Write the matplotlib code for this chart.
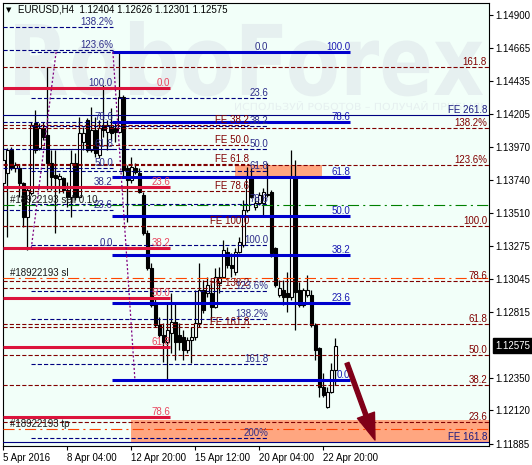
import matplotlib
matplotlib.use('Agg')
import matplotlib.pyplot as plt
from matplotlib.patches import Rectangle, PathPatch
from matplotlib.textpath import TextPath
from matplotlib.font_manager import FontProperties
from matplotlib.transforms import Affine2D
import numpy as np

plt.rcParams['font.family'] = ['Liberation Sans', 'DejaVu Sans']
plt.rcParams['lines.scale_dashes'] = False

# EURUSD H4 bars
opens = [1.13719, 1.13789, 1.13951, 1.13824, 1.13824, 1.13719, 1.13480, 1.13648, 1.14140, 1.13965,
         1.14105, 1.14056, 1.13859, 1.13775, 1.13747, 1.13754, 1.13669, 1.13620, 1.13859, 1.13620,
         1.14007, 1.14161, 1.13951, 1.14091, 1.13915, 1.14126, 1.14077, 1.14112, 1.14105, 1.14077,
         1.14323, 1.13824, 1.13740, 1.13824, 1.13789, 1.13634, 1.13367, 1.13121, 1.12875, 1.12720,
         1.12650, 1.12601, 1.12664, 1.12741, 1.12650, 1.12636, 1.12545, 1.12615, 1.12636, 1.12734,
         1.12966, 1.12945, 1.12945, 1.12847, 1.13016, 1.13058, 1.13233, 1.13142, 1.13093, 1.13233,
         1.13283, 1.13529, 1.13754, 1.13550, 1.13578, 1.13578, 1.13634, 1.13655, 1.13262, 1.12931,
         1.12966, 1.12945, 1.12917, 1.13761, 1.12966, 1.12861, 1.12931, 1.12931, 1.12720, 1.12559,
         1.12284, 1.12144, 1.12249, 1.12404]
highs = [1.13965, 1.13965, 1.13972, 1.13866, 1.13845, 1.13726, 1.13683, 1.14147, 1.14232, 1.14140,
         1.14147, 1.14534, 1.13951, 1.13951, 1.13789, 1.13761, 1.13726, 1.13951, 1.13929, 1.14182,
         1.14112, 1.14175, 1.14253, 1.14182, 1.14161, 1.14407, 1.14161, 1.14246, 1.14147, 1.14639,
         1.14337, 1.13845, 1.13901, 1.13859, 1.13824, 1.13655, 1.13388, 1.13156, 1.12917, 1.12776,
         1.12734, 1.12875, 1.12945, 1.12875, 1.12734, 1.12685, 1.12636, 1.12706, 1.12966, 1.13156,
         1.13037, 1.13058, 1.13016, 1.13121, 1.13128, 1.13318, 1.13269, 1.13226, 1.13262, 1.13339,
         1.13599, 1.13831, 1.13824, 1.13620, 1.13655, 1.13683, 1.13859, 1.13669, 1.13269, 1.13037,
         1.13037, 1.13093, 1.13951, 1.13880, 1.13023, 1.12980, 1.13072, 1.12966, 1.12734, 1.12566,
         1.12383, 1.12284, 1.12453, 1.12626]
lows = [1.13529, 1.13339, 1.13810, 1.13796, 1.13620, 1.13409, 1.13248, 1.13634, 1.13929, 1.13951,
        1.14021, 1.13669, 1.13669, 1.13367, 1.13648, 1.13648, 1.13550, 1.13480, 1.13599, 1.13613,
        1.13951, 1.13936, 1.13936, 1.13901, 1.13894, 1.14042, 1.13951, 1.14021, 1.14007, 1.14070,
        1.13761, 1.13444, 1.13719, 1.13782, 1.13648, 1.13353, 1.13107, 1.12847, 1.12706, 1.12636,
        1.12460, 1.12334, 1.12524, 1.12474, 1.12545, 1.12474, 1.12524, 1.12453, 1.12615, 1.12706,
        1.12805, 1.12917, 1.12755, 1.12840, 1.12945, 1.13051, 1.13121, 1.13058, 1.13072, 1.13226,
        1.13269, 1.13515, 1.13613, 1.13529, 1.13564, 1.13480, 1.13620, 1.13198, 1.12987, 1.12917,
        1.12861, 1.12812, 1.12896, 1.12685, 1.12847, 1.12847, 1.12917, 1.12706, 1.12474, 1.12214,
        1.12214, 1.12137, 1.12242, 1.12301]
closes = [1.13880, 1.13951, 1.13824, 1.13845, 1.13719, 1.13480, 1.13669, 1.14126, 1.13951, 1.14105,
          1.14042, 1.13859, 1.13761, 1.13754, 1.13768, 1.13669, 1.13620, 1.13859, 1.13620, 1.14070,
          1.14070, 1.13951, 1.14091, 1.13929, 1.14105, 1.14091, 1.14126, 1.14070, 1.14077, 1.14323,
          1.13810, 1.13740, 1.13831, 1.13796, 1.13655, 1.13367, 1.13121, 1.12861, 1.12720, 1.12650,
          1.12601, 1.12685, 1.12741, 1.12601, 1.12601, 1.12545, 1.12615, 1.12636, 1.12734, 1.12966,
          1.12826, 1.13001, 1.12847, 1.13058, 1.13058, 1.13248, 1.13142, 1.13121, 1.13233, 1.13304,
          1.13529, 1.13761, 1.13620, 1.13578, 1.13634, 1.13655, 1.13641, 1.13226, 1.13001, 1.12980,
          1.12917, 1.12917, 1.13761, 1.12952, 1.12861, 1.12966, 1.12966, 1.12720, 1.12545, 1.12284,
          1.12230, 1.12249, 1.12404, 1.12575]

date_bars = [0, 16, 32, 48, 64, 80]
date_labels = ['5 Apr 2016', '8 Apr 04:00', '12 Apr 20:00', '15 Apr 12:00', '20 Apr 04:00', '22 Apr 20:00']
price_ticks = [1.14900, 1.14665, 1.14435, 1.14205, 1.13970, 1.13740, 1.13510, 1.13275,
               1.13045, 1.12815, 1.12350, 1.12120, 1.11885]
last_price = 1.12575
title = 'EURUSD,H4  1.12404 1.12626 1.12301 1.12575'

# fibo grids: (price at 0%, price at 100%)
red_fib = (1.14386, 1.11441)
red_levels = [0, 23.6, 38.2, 50, 61.8, 78.6]
red_labels = ['0.0', '23.6', '38.2', '50.0', '61.8', '78.6']

blue_fib = (1.12334, 1.14639)
blue_levels = [0, 23.6, 38.2, 50, 61.8, 78.6, 100]
blue_labels = ['0.0', '23.6', '38.2', '50.0', '61.8', '78.6', '100.0']

fibA = (1.13262, 1.14386)
fibA_levels = [0, 23.6, 38.2, 50, 61.8, 78.6, 100, 123.6, 138.2]
fibA_labels = ['0.0', '23.6', '38.2', '50.0', '61.8', '78.6', '100.0', '123.6%', '138.2%']

fibC = (1.14639, 1.13283)
fibC_levels = [0, 23.6, 38.2, 50, 61.8, 78.6, 100, 123.6, 138.2, 161.8, 200]
fibC_labels = ['0.0', '23.6', '38.2', '50.0', '61.8', '78.6', '100.0', '123.6%', '138.2%', '161.8', '200%']

fibD = (1.11610, 1.13416)
fibD_levels = [23.6, 38.2, 50, 61.8, 78.6, 100, 123.6, 138.2, 161.8]
fibD_labels = ['23.6', '38.2', '50.0', '61.8', '78.6', '100.0', '123.6%', '138.2%', '161.8']

fe_fib = (1.14562, 1.13416)
fe_levels = [38.2, 50, 61.8, 78.6, 100, 138.2, 161.8]
fe_labels = ['FE 38.2', 'FE 50.0', 'FE 61.8', 'FE 78.6', 'FE 100.0', 'FE 138.2', 'FE 161.8']

fe_solid = [(1.14197, 'FE 261.8'), (1.11896, 'FE 161.8')]
orders = [(1.13564, '#18922193 sell 0.10', '#008000'),
          (1.13051, '#18922193 sl', '#FF4500'),
          (1.11989, '#18922193 tp', '#FF4500')]

BG = '#F2FFF9'
W, H = 532, 465
XMIN, XMAX = -0.15, 121.4

fig = plt.figure(figsize=(W / 100, H / 100), dpi=100)
fig.patch.set_facecolor('white')
ax = fig.add_axes([2.7 / W, (H - 446) / H, (489 - 2.7) / W, (446 - 2.7) / H])
ax.set_facecolor(BG)


def fit_text(s, x0, x1, ytop, ybase, color, weight='normal'):
    tp = TextPath((0, 0), s, size=1, prop=FontProperties(family='DejaVu Sans', weight=weight))
    ext = tp.get_extents()
    sx = (x1 - x0) / ext.width
    sy = (ybase - ytop) / ext.ymax
    tr = (Affine2D().translate(-ext.xmin, 0).scale(sx / W, sy / H)
          .translate(x0 / W, (H - ybase) / H) + fig.transFigure)
    ax.add_patch(PathPatch(tp, transform=tr, fc=color, ec='none', zorder=0.2))


# watermark
fit_text('RoboForex', 15, 483, 21, 95, '#E6F0F0', weight='bold')
fit_text('ИСПОЛЬЗУЙ РОБОТОВ – ПОЛУЧАЙ ПРИБЫЛЬ', 235, 487, 101, 110, '#E6F0F0')

# rectangles (background)
ax.add_patch(Rectangle((57.9, 1.13747), 79.7 - 57.9, 1.13845 - 1.13747, fc='#FFA680', ec='none', zorder=1))
ax.add_patch(Rectangle((31.9, 1.11898), XMAX - 31.9, 1.12053 - 1.11898, fc='#FFA680', ec='none', zorder=1))

# candles
o, h, l, c = map(np.array, (opens, highs, lows, closes))
idx = np.arange(len(o))
ax.vlines(idx, l, h, color='black', lw=0.9, zorder=2)
body_lo = np.minimum(o, c)
body_h = np.maximum(np.abs(c - o), 0.00004)
ax.bar(idx, body_h, bottom=body_lo, width=0.6,
       color=np.where(c >= o, 'white', 'black'), edgecolor='black', linewidth=0.8, zorder=3)

DASH = (0, (3, 1.5))


def fibo(anchor, levels, labels, x0, x1, color, ls, lw, tcolor, tx=None):
    p0, p100 = anchor
    for lv, lab in zip(levels, labels):
        y = p0 + (p100 - p0) * lv / 100
        ax.plot([x0, x1], [y, y], color=color, ls=ls, lw=lw, zorder=4, solid_capstyle='butt')
        ax.text(x1 if tx is None else tx, y, lab, ha='right', va='bottom', color=tcolor,
                fontsize=7, zorder=6)


fibo(fibD, fibD_levels, fibD_labels, XMIN, XMAX, '#800000', DASH, 0.8, '#800000', tx=120.9)
fibo(fe_fib, fe_levels, fe_labels, XMIN, 61.4, '#800000', DASH, 0.8, '#800000')
fibo(fibA, fibA_levels, fibA_labels, XMIN, 27.4, '#000080', DASH, 0.8, '#2E2E8A')
fibo(fibC, fibC_levels, fibC_labels, 6.9, 66.2, '#000080', DASH, 0.8, '#2E2E8A')
fibo(red_fib, red_levels, red_labels, XMIN, 41.7, '#DC143C', '-', 2.2, '#E8475F')
fibo(blue_fib, blue_levels, blue_labels, 27.2, 86.7, '#0000CD', '-', 2.2, '#1A1AB4')

for y, lab in fe_solid:
    ax.plot([XMIN, XMAX], [y, y], color='#000080', lw=0.8, zorder=4)
    ax.text(120.9, y, lab, ha='right', va='bottom', color='#1A1A80', fontsize=7, zorder=6)

for y, lab, col in orders:
    ax.plot([XMIN, XMAX], [y, y], color=col, ls=(0, (8, 3, 1.5, 3)), lw=0.8, zorder=4)
    ax.text(1.7, y, lab, ha='left', va='bottom', color='#1A1A1A', fontsize=7, zorder=6)

# trend lines
ax.plot([13.2, 7.0], [1.14640, 1.13262], color='#800080', ls=(0, (1.5, 1.5)), lw=0.9, zorder=4)
ax.plot([27.4, 32.9], [1.14640, 1.12334], color='#800080', ls=(0, (1.5, 1.5)), lw=0.9, zorder=4)

# arrow
ax.annotate('', xy=(92.9, 1.11912), xytext=(85.9, 1.12453),
            arrowprops=dict(arrowstyle='simple,head_length=0.95,head_width=0.65,tail_width=0.15',
                            color='#800018', shrinkA=0, shrinkB=0, mutation_scale=20),
            zorder=7)

ax.set_xlim(XMIN, XMAX)
ax.set_ylim(1.11870, 1.14986)

ax.yaxis.tick_right()
ax.set_yticks(price_ticks)
ax.set_yticklabels([f'{v:.5f}' for v in price_ticks])
ax.tick_params(axis='y', length=3, width=0.8, pad=1.5, labelsize=7, colors='black')
ax.set_xticks(date_bars)
ax.set_xticklabels(date_labels)
for t in ax.get_xticklabels():
    t.set_ha('left')
ax.tick_params(axis='x', length=3, width=0.8, pad=2, labelsize=7)
for sp in ax.spines.values():
    sp.set_color('black')
    sp.set_linewidth(0.8)

ax.annotate(f'{last_price:.5f}', xy=(1, last_price), xycoords=('axes fraction', 'data'),
            xytext=(6, 0), textcoords='offset pixels', va='center', ha='left', color='white',
            fontsize=7, annotation_clip=False,
            bbox=dict(boxstyle='square,pad=0.25', fc='black', ec='black'))

fig.text(6 / W, 1 - 10 / H, '▼', fontsize=5, va='center', family='DejaVu Sans')
fig.text(18 / W, 1 - 10 / H, title, fontsize=7, va='center')

fig.savefig('out.png', dpi=100, facecolor='white')
